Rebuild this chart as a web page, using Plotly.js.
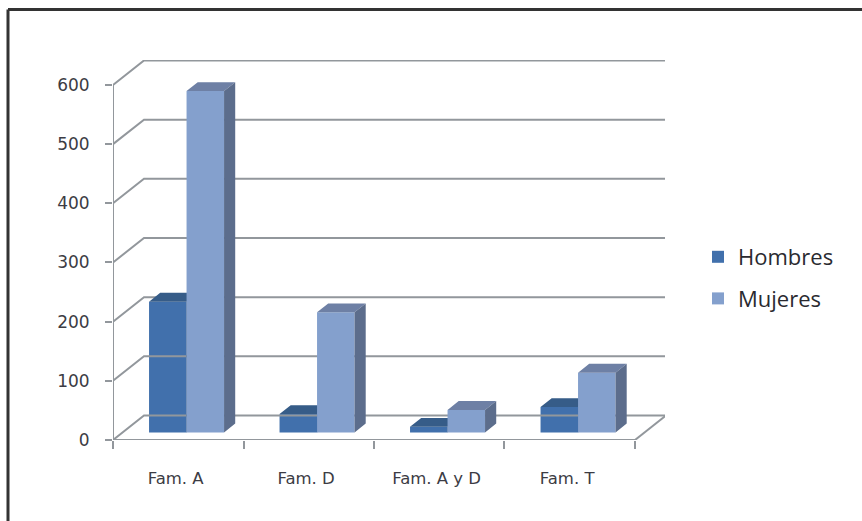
<!DOCTYPE html>
<html><head><meta charset="utf-8">
<script src="https://cdn.plot.ly/plotly-3.0.1.min.js"></script>
<style>html,body{margin:0;padding:0;background:#fff}#c{width:862px;height:521px}</style>
</head><body><div id="c"></div>
<script>
const categories = ["Fam. A","Fam. D","Fam. A y D","Fam. T"];
const hombres = [221,31,9.5,43];
const mujeres = [577,203,38,101];
const valueTicks = [0,100,200,300,400,500,600];
const seriesNames = ["Hombres","Mujeres"];

// oblique projection of the depth direction, in data units
const depthX = 0.2375, depthY = 41.4;
const nearDepth = 0.31, farDepth = 0.67;
const barWidth = 0.2874;
const xMax = 4.23, yMax = 642.2;

const nX = nearDepth*depthX, nY = nearDepth*depthY;
const sX = (farDepth-nearDepth)*depthX, sY = (farDepth-nearDepth)*depthY;

function centers(sign){ return categories.map((_,i)=> i+0.5+nX-0.01+sign*barWidth/2); }
function poly(xc, vals, kind){
  const xs=[], ys=[];
  vals.forEach((v,i)=>{
    const l=xc[i]-barWidth/2, r=xc[i]+barWidth/2, b=nY, t=nY+v;
    if(kind==='top'){
      xs.push(l,l+sX,r+sX,r,l,null); ys.push(t,t+sY,t+sY,t,t,null);
    } else {
      xs.push(r,r+sX,r+sX,r,r,null); ys.push(b,b+sY,t+sY,t,b,null);
    }
  });
  return {x:xs,y:ys};
}
function face(xc, vals, kind, color, xa, ya){
  const p=poly(xc,vals,kind);
  return {type:'scatter',mode:'lines',x:p.x,y:p.y,fill:'toself',fillcolor:color,
    line:{width:0,color:color},showlegend:false,hoverinfo:'skip',xaxis:xa,yaxis:ya};
}
// back wall, side wall and floor lines
const gx=[], gy=[];
valueTicks.forEach(v=>{ gx.push(0,depthX,categories.length+depthX,null); gy.push(v,v+depthY,v+depthY,null); });
gx.push(categories.length+depthX,categories.length); gy.push(depthY,0);
const wall={type:'scatter',mode:'lines',x:gx,y:gy,line:{color:'#92979c',width:2},showlegend:false,hoverinfo:'skip',cliponaxis:false,xaxis:'x',yaxis:'y'};
const frame={type:'scatter',mode:'lines',x:[0,0,categories.length],y:[valueTicks[valueTicks.length-1],0,0],
  line:{color:'#92979c',width:2},showlegend:false,hoverinfo:'skip',cliponaxis:false,xaxis:'x',yaxis:'y'};

const xH=centers(-1), xM=centers(1);
const front=(name,xc,vals,color,xa,ya)=>({type:'bar',name:name,legendgroup:name,x:xc,y:vals,base:nY,width:barWidth,
  marker:{color:color,line:{width:0}},xaxis:xa,yaxis:ya});

const traces=[
  wall, frame,
  front(seriesNames[0],xH,hombres,'#4170ac','x','y'),
  face(xH,hombres,'top','#365c88','x','y'),
  face(xH,hombres,'side','#2f5079','x','y'),
  front(seriesNames[1],xM,mujeres,'#84a0cd','x2','y2'),
  face(xM,mujeres,'top','#6e80a5','x2','y2'),
  face(xM,mujeres,'side','#5c6d8c','x2','y2')
];
const tickFont={family:'DejaVu Sans',size:16.5,color:'#3c3c44'};
const layout={
  width:862,height:521,margin:{l:113,r:197,t:60,b:81},
  paper_bgcolor:'#fff',plot_bgcolor:'rgba(0,0,0,0)',barmode:'overlay',
  xaxis:{range:[0,xMax],tickmode:'array',tickvals:categories.map((_,i)=>i).concat(categories.length),ticktext:['','','','',''],
    ticks:'outside',ticklen:8,tickwidth:2,tickcolor:'#92979c',showgrid:false,zeroline:false,showline:false},
  xaxis2:{range:[0,xMax],overlaying:'x',anchor:'y2',side:'bottom',tickmode:'array',tickvals:categories.map((_,i)=>i+0.48),ticktext:categories,
    ticks:'',showgrid:false,zeroline:false,showline:false,tickfont:tickFont,ticklabelstandoff:26},
  yaxis:{range:[0,yMax],tickmode:'array',tickvals:valueTicks,ticktext:valueTicks.map(String),
    ticks:'outside',ticklen:7,tickwidth:2,tickcolor:'#92979c',showgrid:false,zeroline:false,showline:false,
    tickfont:Object.assign({},tickFont,{size:17}),ticklabelstandoff:12},
  yaxis2:{range:[0,yMax],overlaying:'y',anchor:'x2',visible:false},
  legend:{xref:'container',yref:'container',x:698/862,y:1-236/521,xanchor:'left',yanchor:'top',
    font:{family:'Open Sans',size:22,color:'#2a2a30'},tracegroupgap:10,bgcolor:'rgba(0,0,0,0)',borderwidth:0},
  shapes:[
    {type:'line',xref:'paper',yref:'paper',x0:-105/552,x1:750/552,y0:1+50.5/380,y1:1+50.5/380,line:{color:'#333',width:3}},
    {type:'line',xref:'paper',yref:'paper',x0:-105/552,x1:-105/552,y0:1+50.5/380,y1:-81/380,line:{color:'#333',width:3}}
  ]
};
Plotly.newPlot('c',traces,layout,{displayModeBar:false,staticPlot:true});
</script></body></html>
